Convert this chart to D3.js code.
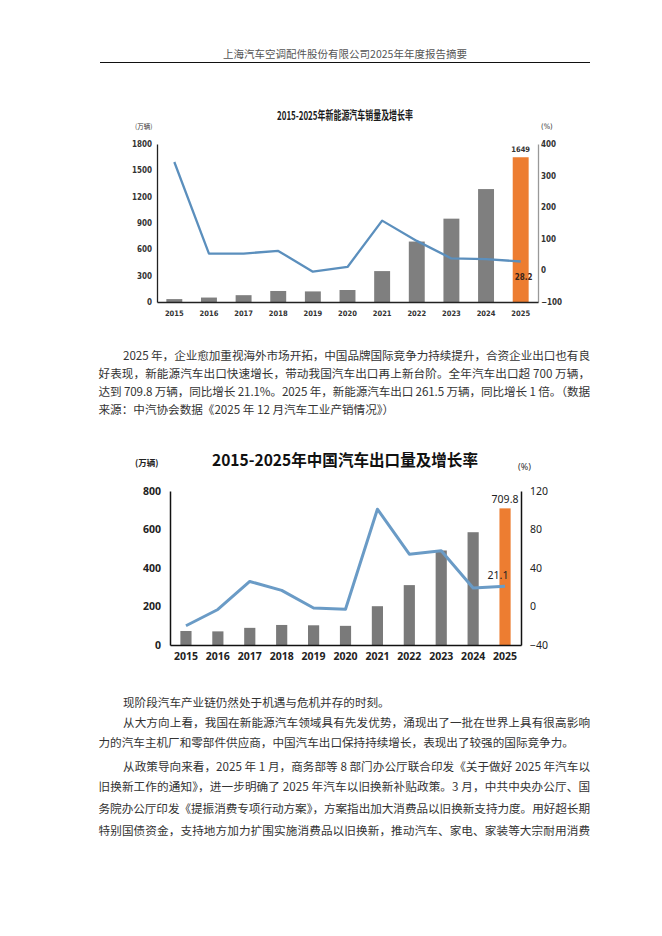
<!DOCTYPE html>
<html><head><meta charset="utf-8">
<script src="https://cdn.jsdelivr.net/npm/d3@7"></script>
<style>
html,body{margin:0;padding:0;background:#fff;}
svg{display:block;}
</style></head>
<body>
<script>
// ---------- data ----------
const years = ["2015","2016","2017","2018","2019","2020","2021","2022","2023","2024","2025"];
const nevSales = [33.1, 50.7, 77.7, 125.6, 120.6, 136.7, 352.1, 688.7, 949.5, 1286.6, 1649];
const nevGrowth = [343, 53, 53.3, 61.7, -4, 10.9, 157.5, 93.4, 37.9, 35.5, 28.2];
const nevLeftTicks = [0, 300, 600, 900, 1200, 1500, 1800];
const nevRightTicks = [-100, 0, 100, 200, 300, 400];

const exportVol = [72.8, 70.8, 89.1, 104.1, 102.4, 99.5, 201.5, 311.1, 491, 585.9, 709.8];
const exportGrowth = [-20, -3.1, 26, 16.8, -1.6, -2.9, 101.1, 54.4, 57.9, 19.3, 21.1];
const expLeftTicks = [0, 200, 400, 600, 800];
const expRightTicks = [-40, 0, 40, 80, 120];

const headerText = "上海汽车空调配件股份有限公司2025年年度报告摘要";
const chart1Title = "2015-2025年新能源汽车销量及增长率";
const chart2Title = "2015-2025年中国汽车出口量及增长率";

const para1 = [
  "2025 年，企业愈加重视海外市场开拓，中国品牌国际竞争力持续提升，合资企业出口也有良",
  "好表现，新能源汽车出口快速增长，带动我国汽车出口再上新台阶。全年汽车出口超 700 万辆，",
  "达到 709.8 万辆，同比增长 21.1%。2025 年，新能源汽车出口 261.5 万辆，同比增长 1 倍。（数据",
  "来源：中汽协会数据《2025 年 12 月汽车工业产销情况》）"
];
const para2 = ["现阶段汽车产业链仍然处于机遇与危机并存的时刻。"];
const para3 = [
  "从大方向上看，我国在新能源汽车领域具有先发优势，涌现出了一批在世界上具有很高影响",
  "力的汽车主机厂和零部件供应商，中国汽车出口保持持续增长，表现出了较强的国际竞争力。"
];
const para4 = [
  "从政策导向来看，2025 年 1 月，商务部等 8 部门办公厅联合印发《关于做好 2025 年汽车以",
  "旧换新工作的通知》，进一步明确了 2025 年汽车以旧换新补贴政策。3 月，中共中央办公厅、国",
  "务院办公厅印发《提振消费专项行动方案》，方案指出加大消费品以旧换新支持力度。用好超长期",
  "特别国债资金，支持地方加力扩围实施消费品以旧换新，推动汽车、家电、家装等大宗耐用消费"
];

// ---------- page ----------
const W = 662, H = 936;
const svg = d3.select("body").append("svg").attr("width", W).attr("height", H);
svg.append("rect").attr("width", W).attr("height", H).attr("fill", "#fff");

const CJK = "'Noto Sans CJK SC','Noto Sans',sans-serif";
const fmt = d3.format("d");

// header
svg.append("text").attr("x", 345).attr("y", 58).attr("text-anchor", "middle")
  .attr("font-family", CJK).attr("font-size", 10.5).attr("fill", "#555")
  .text(headerText);
svg.append("line").attr("x1", 100).attr("x2", 590).attr("y1", 62.5).attr("y2", 62.5)
  .attr("stroke", "#111").attr("stroke-width", 1);

// ---------- chart 1 ----------
(function(){
  const g = svg.append("g");
  const NARROW = "'Liberation Sans Narrow','DejaVu Sans Condensed','Liberation Sans',sans-serif";
  const x = d3.scaleBand().domain(years).range([157, 538]).paddingInner(0.54).paddingOuter(0.27);
  const yL = d3.scaleLinear().domain([0, 1800]).range([302, 144]);
  const yR = d3.scaleLinear().domain([-100, 400]).range([302, 144]);

  g.append("text").attr("x", 345).attr("y", 120).attr("text-anchor", "middle")
    .attr("font-family", CJK).attr("font-weight", "bold").attr("font-size", 12)
    .attr("fill", "#1a1a1a").attr("textLength", 136).attr("lengthAdjust", "spacingAndGlyphs")
    .text(chart1Title);
  g.append("text").attr("x", 135).attr("y", 129).attr("font-family", CJK)
    .attr("font-size", 6.5).attr("fill", "#333").text("(万辆)");
  g.append("text").attr("x", 541).attr("y", 129).attr("font-family", NARROW)
    .attr("font-size", 7.5).attr("fill", "#333").text("(%)");

  // bars
  g.selectAll("rect.b").data(years).join("rect")
    .attr("x", d => x(d)).attr("width", x.bandwidth())
    .attr("y", (d, i) => yL(nevSales[i])).attr("height", (d, i) => yL(0) - yL(nevSales[i]))
    .attr("fill", (d, i) => i === years.length - 1 ? "#ed7d31" : "#7f7f7f");

  // axes
  const ax = g.append("g").attr("transform", "translate(157,0)")
    .call(d3.axisLeft(yL).tickValues(nevLeftTicks).tickFormat(fmt).tickSize(0).tickPadding(5).tickSizeOuter(0));
  ax.select(".domain").attr("stroke", "#222").attr("stroke-width", 1.3);
  ax.selectAll("text").attr("font-family", NARROW).attr("font-weight", "bold").attr("font-size", 8).attr("fill", "#333");

  const ar = g.append("g").attr("transform", "translate(538,0)")
    .call(d3.axisRight(yR).tickValues(nevRightTicks).tickFormat(fmt).tickSize(0).tickPadding(3).tickSizeOuter(0));
  ar.select(".domain").attr("stroke", "#999").attr("stroke-width", 1.3);
  ar.selectAll("text").attr("font-family", NARROW).attr("font-weight", "bold").attr("font-size", 8).attr("fill", "#333");

  const ab = g.append("g").attr("transform", "translate(0,302)")
    .call(d3.axisBottom(x).tickSize(0).tickPadding(9).tickSizeOuter(0));
  ab.select(".domain").attr("stroke", "#222").attr("stroke-width", 1.3);
  ab.selectAll("text").attr("font-family", NARROW).attr("font-weight", "bold").attr("font-size", 7.5).attr("fill", "#333");

  // line
  const line = d3.line().x((d, i) => x(years[i]) + x.bandwidth() / 2).y(d => yR(d));
  g.append("path").datum(nevGrowth).attr("d", line).attr("fill", "none")
    .attr("stroke", "#5b8fbd").attr("stroke-width", 2.3).attr("stroke-linejoin", "round");

  const last = years.length - 1;
  g.append("text").attr("x", x(years[last]) + x.bandwidth() / 2).attr("y", yL(nevSales[last]) - 5)
    .attr("text-anchor", "middle").attr("font-family", NARROW).attr("font-weight", "bold")
    .attr("font-size", 7.5).attr("fill", "#333").text(String(nevSales[last]));
  g.append("text").attr("x", x(years[last]) + x.bandwidth() / 2 + 3).attr("y", yR(nevGrowth[last]) + 19)
    .attr("text-anchor", "middle").attr("font-family", NARROW).attr("font-weight", "bold")
    .attr("font-size", 8).attr("fill", "#3a2418").text(String(nevGrowth[last]));
})();

// ---------- chart 2 ----------
(function(){
  const g = svg.append("g");
  const F = "'Noto Sans','Open Sans',sans-serif";
  const x = d3.scaleBand().domain(years).range([170, 521]).paddingInner(0.65).paddingOuter(0.325);
  const yL = d3.scaleLinear().domain([0, 800]).range([645, 491]);
  const yR = d3.scaleLinear().domain([-40, 120]).range([645, 491]);

  g.append("text").attr("x", 345).attr("y", 466).attr("text-anchor", "middle")
    .attr("font-family", CJK).attr("font-weight", "bold").attr("font-size", 16)
    .attr("fill", "#111").attr("textLength", 266).attr("lengthAdjust", "spacingAndGlyphs")
    .text(chart2Title);
  g.append("text").attr("x", 135).attr("y", 466).attr("font-family", CJK).attr("font-weight", "bold")
    .attr("font-size", 8.5).attr("fill", "#222").text("(万辆)");
  g.append("text").attr("x", 518).attr("y", 470).attr("font-family", F)
    .attr("font-size", 9).attr("fill", "#333").text("(%)");

  g.selectAll("rect.b").data(years).join("rect")
    .attr("x", d => x(d)).attr("width", x.bandwidth())
    .attr("y", (d, i) => yL(exportVol[i])).attr("height", (d, i) => yL(0) - yL(exportVol[i]))
    .attr("fill", (d, i) => i === years.length - 1 ? "#ed7d31" : "#7a7a7a");

  const ax = g.append("g").attr("transform", "translate(170,0)")
    .call(d3.axisLeft(yL).tickValues(expLeftTicks).tickFormat(fmt).tickSize(0).tickPadding(9).tickSizeOuter(0));
  ax.select(".domain").attr("stroke", "#111").attr("stroke-width", 1.5);
  ax.selectAll("text").attr("font-family", F).attr("font-weight", "bold").attr("font-size", 10.5).attr("fill", "#222");

  const ar = g.append("g").attr("transform", "translate(521,0)")
    .call(d3.axisRight(yR).tickValues(expRightTicks).tickFormat(fmt).tickSize(0).tickPadding(9).tickSizeOuter(0));
  ar.select(".domain").attr("stroke", "#111").attr("stroke-width", 1.5);
  ar.selectAll("text").attr("font-family", F).attr("font-size", 10.5).attr("fill", "#222");

  const ab = g.append("g").attr("transform", "translate(0,645)")
    .call(d3.axisBottom(x).tickSize(0).tickPadding(8).tickSizeOuter(0));
  ab.select(".domain").attr("stroke", "#111").attr("stroke-width", 1.5);
  ab.selectAll("text").attr("font-family", F).attr("font-weight", "bold").attr("font-size", 10.5).attr("fill", "#222");

  const line = d3.line().x((d, i) => x(years[i]) + x.bandwidth() / 2).y(d => yR(d));
  g.append("path").datum(exportGrowth).attr("d", line).attr("fill", "none")
    .attr("stroke", "#6a9bc6").attr("stroke-width", 3).attr("stroke-linejoin", "round");

  const last = years.length - 1;
  g.append("text").attr("x", x(years[last]) + x.bandwidth() / 2).attr("y", yL(exportVol[last]) - 5)
    .attr("text-anchor", "middle").attr("font-family", F)
    .attr("font-size", 10.5).attr("fill", "#222").text(String(exportVol[last]));
  g.append("text").attr("x", x(years[last]) + x.bandwidth() / 2 - 7).attr("y", yR(exportGrowth[last]) - 7)
    .attr("text-anchor", "middle").attr("font-family", F)
    .attr("font-size", 10.5).attr("fill", "#222").text(String(exportGrowth[last]));
})();

// ---------- body text ----------
const LEFT = 98.5, RIGHT = 590, INDENT = 24.5, FS = 11.6;
function para(lines, ys, justifyLast) {
  lines.forEach((t, i) => {
    const x0 = i === 0 ? LEFT + INDENT : LEFT;
    const txt = svg.append("text").attr("x", x0).attr("y", ys[i] + 4.3)
      .attr("font-family", CJK).attr("font-size", FS).attr("fill", "#333").text(t);
    const isLast = i === lines.length - 1;
    if (!isLast || justifyLast) {
      txt.attr("textLength", RIGHT - x0).attr("lengthAdjust", "spacing");
    }
  });
}
para(para1, [355.5, 373.5, 392, 410], false);
para(para2, [702.5], false);
para(para3, [722.5, 743], false);
para(para4, [767, 787, 809, 830.5], true);
</script>
</body></html>
